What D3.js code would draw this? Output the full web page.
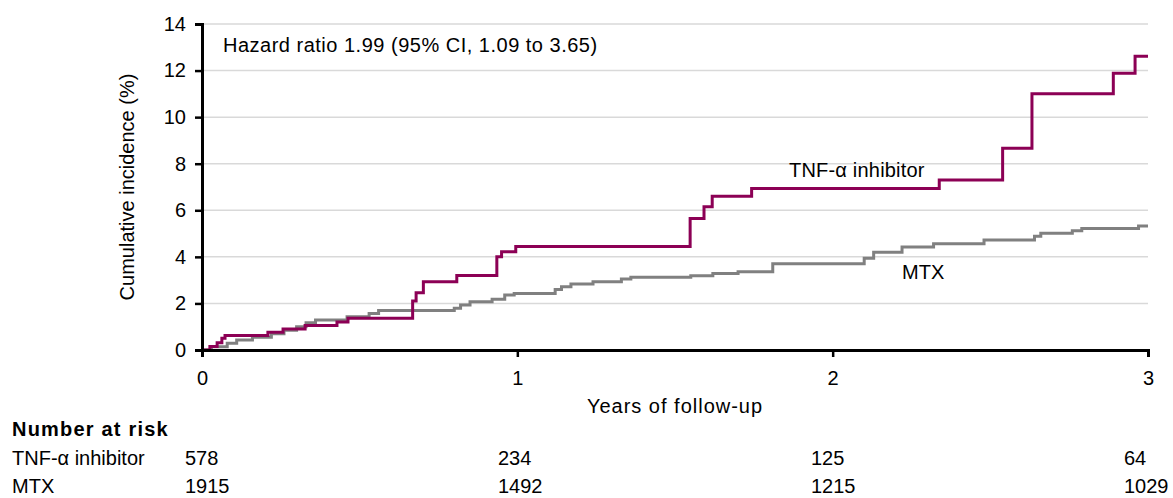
<!DOCTYPE html>
<meta charset="utf-8">
<head>
  <title>Cumulative incidence</title>
</head>
<style>
body { margin: 0; background: #fff; }
text { font-family: "Liberation Sans", Arial, sans-serif; fill: #000; font-size: 20px; }
.grid line { stroke: #d9d9d9; stroke-width: 1.5px; }
.curve { fill: none; stroke-width: 3px; }
</style>
<body>
  <svg width="1173" height="498"></svg>
  <script src="https://cdnjs.cloudflare.com/ajax/libs/d3/7.8.5/d3.min.js"></script>
  <script>
// step times (years) and cumulative incidence (%)
var tnfYears = [0, 0.025, 0.048, 0.063, 0.073, 0.209, 0.257, 0.327, 0.428, 0.463, 0.668, 0.679, 0.702,
  0.808, 0.935, 0.950, 0.995, 1.548, 1.592, 1.618, 1.743, 2.338, 2.539, 2.632, 2.890, 2.959, 3.0];
var tnfValues = [0, 0.15, 0.31, 0.5, 0.62, 0.76, 0.9, 1.05, 1.2, 1.36, 2.1, 2.46, 2.93,
  3.2, 4.0, 4.22, 4.45, 5.65, 6.15, 6.6, 6.94, 7.3, 8.66, 11.0, 11.88, 12.62, 12.62];

var mtxYears = [0, 0.03, 0.08, 0.11, 0.16, 0.22, 0.26, 0.30, 0.33, 0.36, 0.46, 0.53, 0.56, 0.80, 0.82,
  0.85, 0.92, 0.96, 0.99, 1.12, 1.14, 1.17, 1.24, 1.33, 1.36, 1.55, 1.62, 1.70, 1.81, 2.10,
  2.13, 2.22, 2.32, 2.48, 2.64, 2.66, 2.76, 2.79, 2.97, 3.0];
var mtxValues = [0, 0.14, 0.29, 0.43, 0.55, 0.7, 0.85, 1.0, 1.17, 1.29, 1.43, 1.57, 1.7, 1.79, 1.93,
  2.07, 2.18, 2.36, 2.43, 2.6, 2.72, 2.83, 2.93, 3.05, 3.12, 3.19, 3.29, 3.36, 3.7, 3.94,
  4.2, 4.42, 4.56, 4.72, 4.89, 5.01, 5.12, 5.22, 5.32, 5.32];

var xTicks = [0, 1, 2, 3];
var yTicks = [0, 2, 4, 6, 8, 10, 12, 14];
var riskGroups = ["TNF-\u03b1 inhibitor", "MTX"];
var riskTnf = [578, 234, 125, 64];
var riskMtx = [1915, 1492, 1215, 1029];

var svg = d3.select('svg');
var x = d3.scaleLinear().domain([0, 3]).range([202, 1148]);
var y = d3.scaleLinear().domain([0, 14]).range([350, 24]);
// columns of the risk table sit a bit left of the ticks
var col = d3.scaleLinear().domain([0, 3]).range([185, 1124]);

// gridlines
svg.append('g').attr('class', 'grid')
  .selectAll('line')
  .data(yTicks.filter(function(d) { return d > 0; }))
  .enter().append('line')
  .attr('x1', x(0)).attr('x2', x(3))
  .attr('y1', function(d) { return y(d); })
  .attr('y2', function(d) { return y(d); });

var line = d3.line()
  .x(function(d) { return x(d[0]); })
  .y(function(d) { return y(d[1]); })
  .curve(d3.curveStepAfter);

svg.append('path').attr('class', 'curve')
  .attr('stroke', '#808080')
  .attr('d', line(d3.zip(mtxYears, mtxValues)));
svg.append('path').attr('class', 'curve')
  .attr('stroke', '#8c0055')
  .attr('d', line(d3.zip(tnfYears, tnfValues)));

// axes
var yAxis = svg.append('g')
  .attr('transform', 'translate(' + x(0) + ',0)')
  .call(d3.axisLeft(y).tickValues(yTicks).tickSize(7).tickPadding(9));
var xAxis = svg.append('g')
  .attr('transform', 'translate(0,' + y(0) + ')')
  .call(d3.axisBottom(x).tickValues(xTicks).tickFormat(d3.format('d')).tickSize(7).tickPadding(14));
[xAxis, yAxis].forEach(function(a) {
  a.select('.domain').attr('stroke', '#000').attr('stroke-width', 3);
  a.selectAll('.tick line').attr('stroke', '#000').attr('stroke-width', 2.5);
  a.selectAll('text').attr('font-size', 20).attr('font-family', '"Liberation Sans", Arial, sans-serif');
});

svg.append('text')
  .attr('x', x(1.5)).attr('y', 413)
  .attr('text-anchor', 'middle').style('letter-spacing', '1px')
  .text('Years of follow-up');
svg.append('text')
  .attr('transform', 'translate(134,' + y(7) + ') rotate(-90)')
  .attr('text-anchor', 'middle')
  .text('Cumulative incidence (%)');

svg.append('text')
  .attr('x', 223).attr('y', 52).style('letter-spacing', '0.5px')
  .text('Hazard ratio 1.99 (95% CI, 1.09 to 3.65)');
svg.append('text')
  .attr('x', 789).attr('y', 177).style('letter-spacing', '0.2px')
  .text('TNF-\u03b1 inhibitor');
svg.append('text')
  .attr('x', 902).attr('y', 279)
  .text('MTX');

// number at risk table
svg.append('text')
  .attr('x', 12).attr('y', 436).attr('font-weight', 'bold').style('letter-spacing', '1.2px')
  .text('Number at risk');
[riskTnf, riskMtx].forEach(function(row, i) {
  var ry = 465 + i * 28;
  svg.append('text').attr('x', 12).attr('y', ry).text(riskGroups[i]);
  svg.selectAll('text.risk' + i)
    .data(row)
    .enter().append('text')
    .attr('class', 'risk' + i)
    .attr('x', function(d, j) { return col(xTicks[j]); })
    .attr('y', ry)
    .text(function(d) { return d; });
});
  </script>
</body>
</html>
